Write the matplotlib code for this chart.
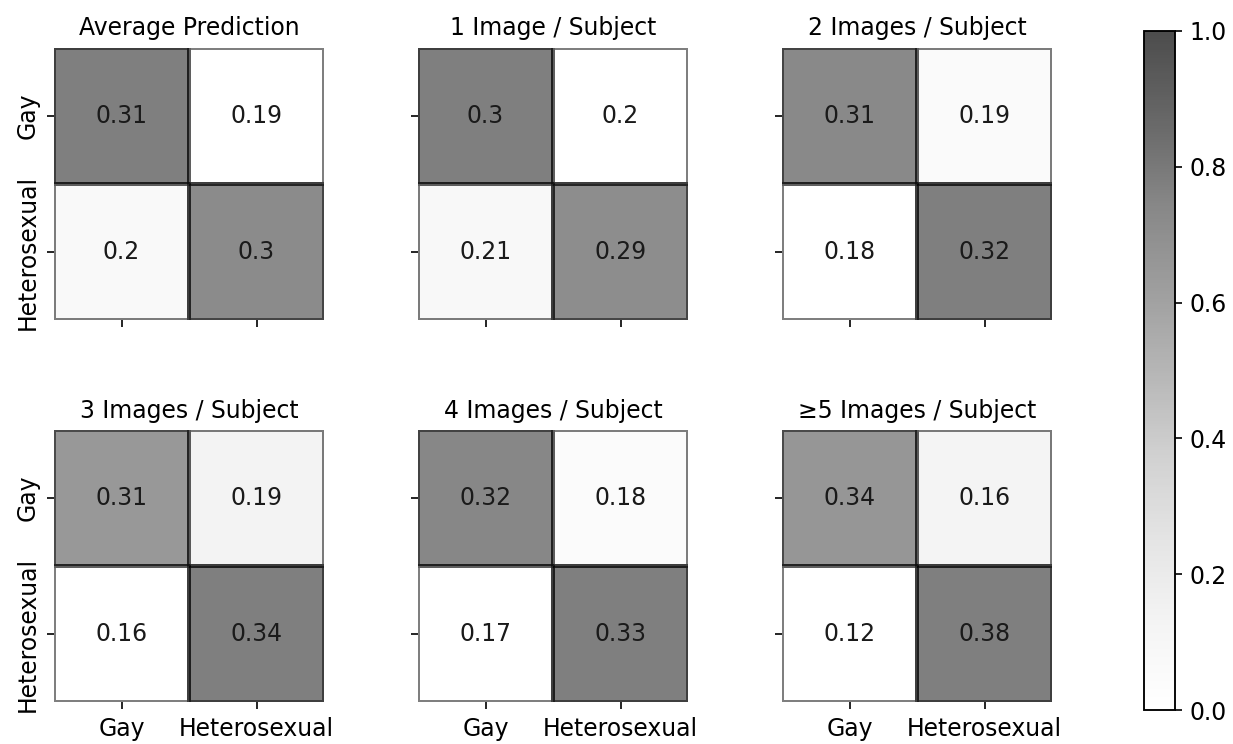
import numpy as np
import matplotlib
matplotlib.use("Agg")
import matplotlib.pyplot as plt
from matplotlib.colors import LinearSegmentedColormap, Normalize
from matplotlib.cm import ScalarMappable

titles = ["Average Prediction", "1 Image / Subject", "2 Images / Subject",
          "3 Images / Subject", "4 Images / Subject", "\u22655 Images / Subject"]
labels = ["Gay", "Heterosexual"]
avg_pred = [[0.31, 0.19], [0.20, 0.30]]
img1 = [[0.30, 0.20], [0.21, 0.29]]
img2 = [[0.31, 0.19], [0.18, 0.32]]
img3 = [[0.31, 0.19], [0.16, 0.34]]
img4 = [[0.32, 0.18], [0.17, 0.33]]
img5 = [[0.34, 0.16], [0.12, 0.38]]
panels = [avg_pred, img1, img2, img3, img4, img5]
cbar_ticks = [0.0, 0.2, 0.4, 0.6, 0.8, 1.0]

W, H = 1233, 744
DPI = 150
FS = 11.3
plt.rcParams['font.family'] = ['DejaVu Sans']
plt.rcParams['font.size'] = FS
fig = plt.figure(figsize=(W / DPI, H / DPI), dpi=DPI)

lefts = [54, 418, 782]
tops = [48, 430]
aw, ah = 270, 272

for i, (data, title) in enumerate(zip(panels, titles)):
    r, c = divmod(i, 3)
    x0 = lefts[c]
    y0 = tops[r]
    ax = fig.add_axes([x0 / W, 1 - (y0 + ah) / H, aw / W, ah / H])
    arr = np.array(data)
    ax.pcolormesh(arr, cmap='Greys', alpha=0.5, edgecolors='k', linewidth=1.0)
    ax.set_xlim(0, 2)
    ax.set_ylim(2, 0)
    for (yy, xx), v in np.ndenumerate(arr):
        ax.text(xx + 0.5, yy + 0.5, f"{v:g}", ha='center', va='center',
                fontsize=FS, color='#1a1a1a')
    ax.set_xticks([0.5, 1.5])
    ax.set_yticks([0.5, 1.5])
    if r == 1:
        ax.set_xticklabels(labels, fontsize=FS)
    else:
        ax.set_xticklabels([])
    if c == 0:
        ax.set_yticklabels(labels, rotation=90, va='center', fontsize=FS)
    else:
        ax.set_yticklabels([])
    for s in ax.spines.values():
        s.set_visible(False)
    ax.set_title(title, fontsize=FS, pad=6)

# colorbar
base = plt.get_cmap('Greys')
a = 0.7
cols = [tuple(a * np.array(base(t)[:3]) + (1 - a)) for t in np.linspace(0, 1, 256)]
cmap_cb = LinearSegmentedColormap.from_list('greys_alpha', cols)
cax = fig.add_axes([1144 / W, 1 - 710 / H, 31 / W, (710 - 31) / H])
sm = ScalarMappable(norm=Normalize(0, 1), cmap=cmap_cb)
cb = fig.colorbar(sm, cax=cax, ticks=cbar_ticks)
cb.ax.tick_params(labelsize=FS)
cb.outline.set_linewidth(0.9)

fig.savefig("out.png", dpi=DPI)
